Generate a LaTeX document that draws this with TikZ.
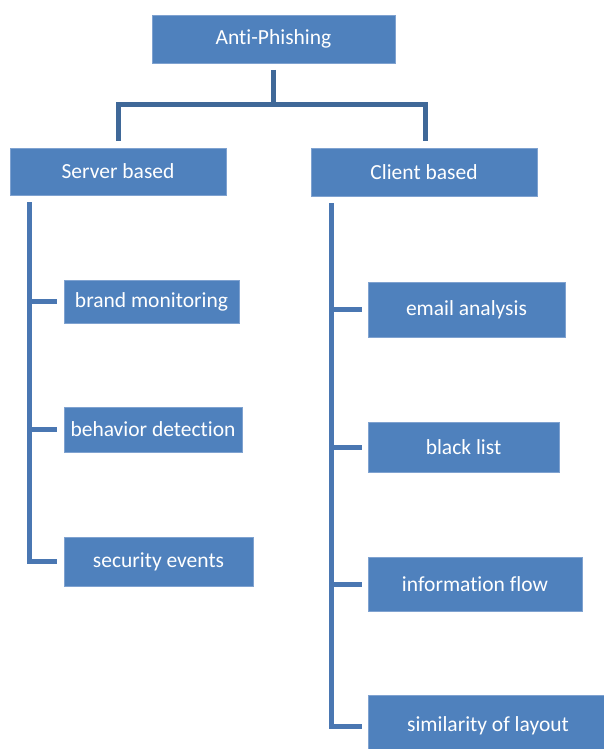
\documentclass[tikz,border=0pt]{standalone}
\usepackage{fontspec}
\setmainfont{Carlito}[Ligatures=NoCommon]
\usetikzlibrary{calc}
\definecolor{boxblue}{HTML}{4F81BD}
\definecolor{boxedge}{HTML}{7FA2D0}
\definecolor{topline}{HTML}{3F6898}
\definecolor{treeline}{HTML}{4A77B2}
\tikzset{
  box/.style={fill=boxblue, draw=boxedge, line width=0.6pt, anchor=north west,
    inner sep=0pt, outer sep=0pt, text=white, align=center,
    font=\fontsize{21.5}{25}\selectfont},
  topconn/.style={draw=topline, line width=5pt, line join=miter},
  treeconn/.style={draw=treeline, line width=5pt, line join=miter},
}
\begin{document}
\begin{tikzpicture}[x=1pt,y=-1pt]
\useasboundingbox (0,0) rectangle (604,749);
\node[box, minimum width=243pt, minimum height=48pt] (ap) at (152,15) {Anti-Phishing};
\node[box, minimum width=216pt, minimum height=47pt] (server) at (10,148) {Server based};
\node[box, minimum width=226pt, minimum height=48pt] (client) at (311,148) {Client based};
\node[box, minimum width=175pt, minimum height=43pt] (brand) at (64,280) {brand monitoring};
\node[box, minimum width=178pt, minimum height=45pt] (behav) at (64,407) {behavior detection};
\node[box, minimum width=189pt, minimum height=49pt] (secev) at (64,537) {security events};
\node[box, minimum width=197pt, minimum height=55pt] (email) at (368,282) {email analysis};
\node[box, minimum width=191pt, minimum height=50pt] (black) at (368,422) {black list};
\node[box, minimum width=214pt, minimum height=54pt] (info) at (368,557) {information flow};
\node[box, minimum width=240pt, minimum height=62pt] (simil) at (368,695) {similarity of layout};
% top connectors
\coordinate (hub) at ($(ap.south)+(0,42)$);
\draw[topconn] ($(ap.south)+(0,7)$) -- (hub);
\draw[topconn] ($(server.north west)+(108,-7)$) |- (hub) -| ($(client.north west)+(114.5,-7)$);
% server tree
\coordinate (lx) at ($(server.south west)+(19,7)$);
\draw[treeconn] (lx) |- ($(secev.west)+(-7,0)$);
\draw[treeconn] (lx |- brand.west) -- ($(brand.west)+(-7,0)$);
\draw[treeconn] (lx |- behav.west) -- ($(behav.west)+(-7,0)$);
% client tree
\coordinate (rx) at ($(client.south west)+(20,7)$);
\draw[treeconn] (rx) |- ($(simil.west)+(-6,0)$);
\draw[treeconn] (rx |- email.west) -- ($(email.west)+(-6,0)$);
\draw[treeconn] (rx |- black.west) -- ($(black.west)+(-6,0)$);
\draw[treeconn] (rx |- info.west) -- ($(info.west)+(-6,0)$);
\end{tikzpicture}
\end{document}
